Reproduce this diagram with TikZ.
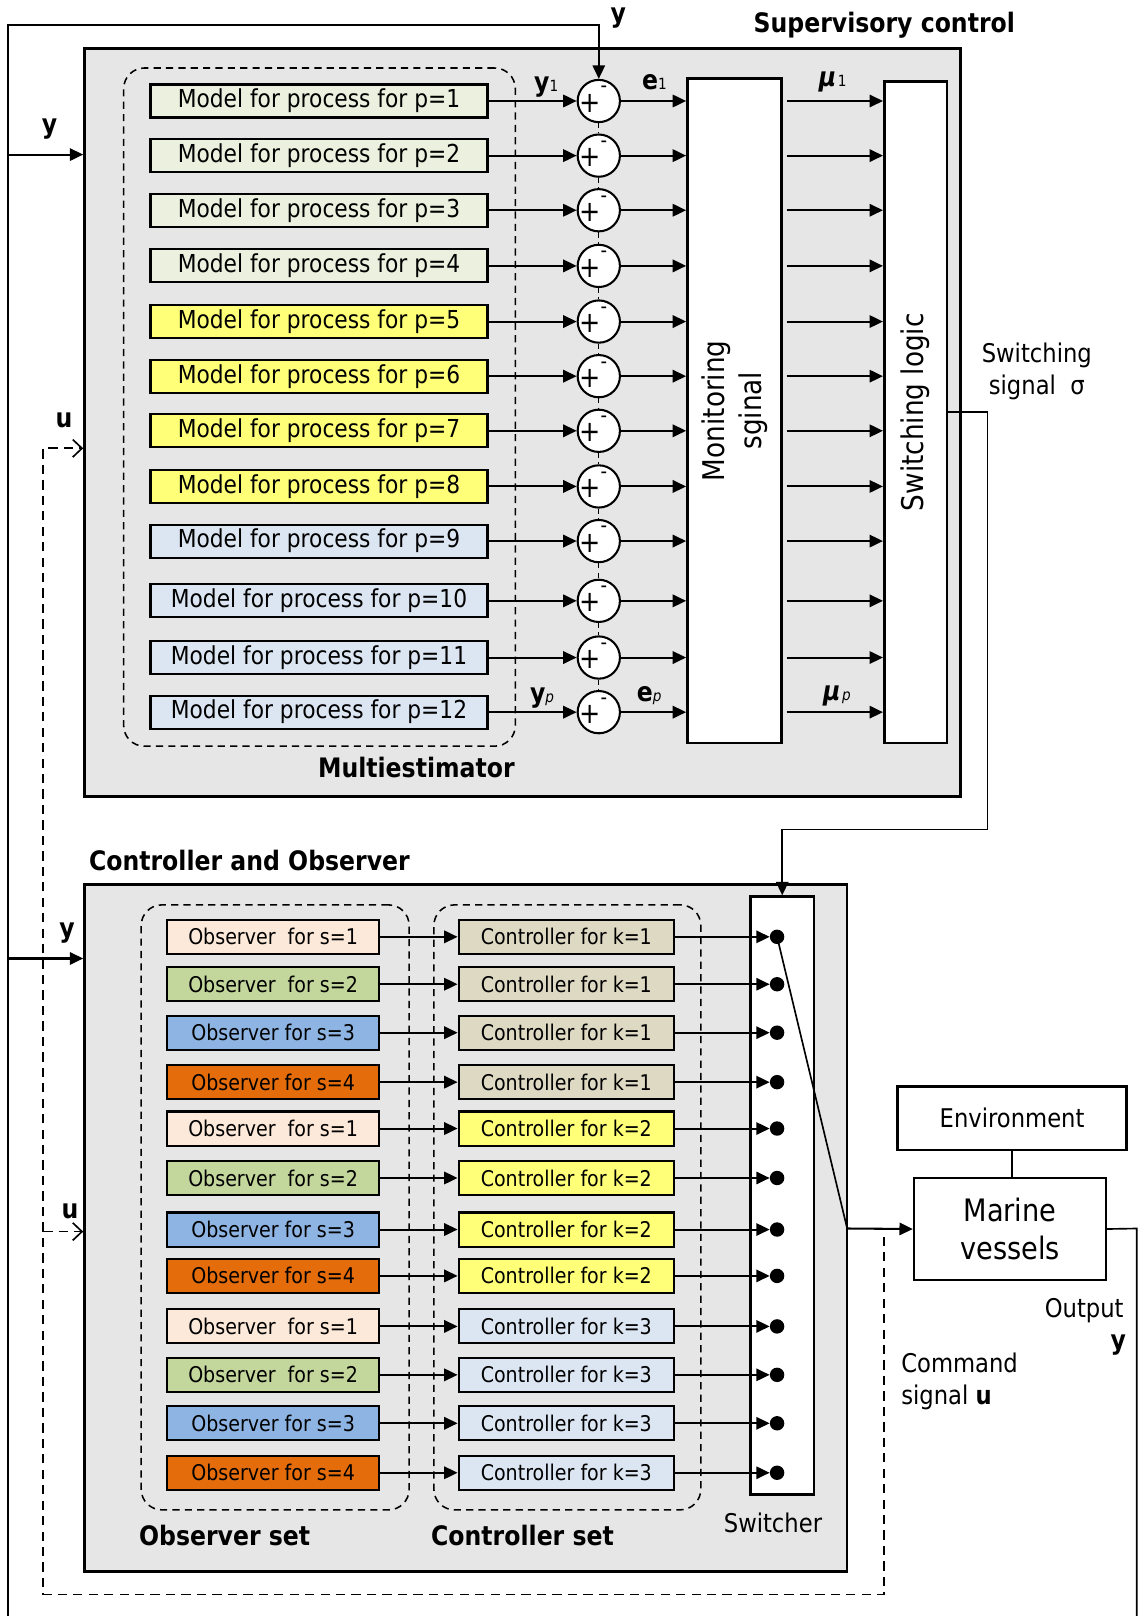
\documentclass[tikz,border=0pt]{standalone}
\usepackage{fontspec}
\setmainfont{DejaVu Sans}[FakeStretch=0.88]
\usepackage{tikz}
\usepackage{xcolor}
\usetikzlibrary{arrows.meta,positioning,fit,calc}
\definecolor{panelgray}{RGB}{230,230,230}
\definecolor{modgreen}{RGB}{235,241,222}
\definecolor{modyellow}{RGB}{255,255,120}
\definecolor{modblue}{RGB}{220,230,242}
\definecolor{obsfill1}{RGB}{253,233,217}
\definecolor{obsfill2}{RGB}{195,214,155}
\definecolor{obsfill3}{RGB}{141,180,226}
\definecolor{obsfill4}{RGB}{228,108,10}
\definecolor{ctrlfill1}{RGB}{221,217,195}
\definecolor{ctrlfill2}{RGB}{255,255,120}
\definecolor{ctrlfill3}{RGB}{220,230,242}

\begin{document}
\begin{tikzpicture}[x=1pt, y=-1pt, >={Triangle[length=13pt, width=12pt]},
    panel/.style={draw, line width=2.5pt, fill=panelgray, inner sep=0pt},
    whitebox/.style={draw, line width=2.5pt, fill=white, inner sep=0pt},
    modelbox/.style={draw, line width=2pt, minimum width=327pt, minimum height=32pt, inner sep=0pt, font=\fontsize{24}{28}\selectfont},
    obsbox/.style={draw, line width=2pt, minimum width=206pt, minimum height=33pt, inner sep=0pt, font=\fontsize{21}{24}\selectfont},
    ctrlbox/.style={obsbox, minimum width=209pt},
    setbox/.style={draw, line width=1.5pt, dash pattern=on 7pt off 5pt, rounded corners=20pt, inner sep=0pt},
    sumnode/.style={circle, draw, line width=2pt, fill=white, minimum size=41pt, inner sep=0pt},
    dotnode/.style={circle, fill=black, minimum size=14pt, inner sep=0pt},
    conn/.style={line width=2pt},
    thinconn/.style={line width=1.6pt},
    uline/.style={line width=1.6pt, dash pattern=on 9pt off 6pt, -{Straight Barb[length=9pt, width=17pt, line width=1.6pt]}},
    headtext/.style={font=\fontsize{26}{30}\selectfont\bfseries},
    lbl/.style={font=\fontsize{25}{31}\selectfont},
  ]
  \useasboundingbox (0,0) rectangle (1107,1568);

  % supervisory part
  \node[panel, minimum width=850pt, minimum height=726pt] (mest) at (507,410) {};
  \node[headtext] (suplab) at (858,24) {Supervisory control};

  \foreach \p/\yy/\col in {1/98/modgreen, 2/151/modgreen, 3/204/modgreen, 4/258/modgreen,
      5/312/modyellow, 6/365/modyellow, 7/418/modyellow, 8/472/modyellow,
      9/525/modblue, 10/583/modblue, 11/638/modblue, 12/691/modblue} {
    \node[modelbox, fill=\col] (m\p) at (309.5,\yy) {Model for process for p=\p};
    \node[sumnode] (s\p) at (581,\yy) {};
    \node[font=\fontsize{28}{28}\selectfont, inner sep=0pt] (pl\p) at ([xshift=-8pt, yshift=-2pt]s\p.center) {+};
    \node[font=\fontsize{20}{20}\selectfont, inner sep=0pt] (mn\p) at ([xshift=5pt, yshift=11pt]s\p.center) {-};
    \draw[->, conn] (m\p) -- (s\p);
  }
  \foreach \a/\b in {1/2,2/3,3/4,4/5,5/6,6/7,7/8,8/9,9/10,10/11,11/12}
    \draw[line width=1.2pt, dash pattern=on 5pt off 4pt] (s\a.south) -- (s\b.north);

  \node[setbox, fit={(120,66) (500,724)}] (mgroup) {};
  \node[headtext] (mlab) at (404,745) {Multiestimator};

  \node[whitebox, minimum width=91pt, minimum height=645pt] (mon) at (712.5,398.5) {};
  \node[rotate=90, align=center, font=\fontsize{29}{36}\selectfont] (monlab) at (mon.center) {Monitoring\\sginal};
  \node[whitebox, minimum width=61pt, minimum height=642pt] (slog) at (888.5,400) {};
  \node[rotate=90, font=\fontsize{29}{36}\selectfont] (sloglab) at (slog.center) {Switching logic};

  \foreach \p in {1,...,12} {
    \draw[->, conn] (s\p.east) -- (s\p.east -| mon.west);
    \draw[->, conn] ($(mon.east |- s\p)+(4,0)$) -- (slog.west |- s\p);
  }

  \node (y1lab) at (530,84) {{\fontsize{26}{30}\selectfont\bfseries y}{\fontsize{15}{18}\selectfont 1}};
  \node (e1lab) at (635,80) {{\fontsize{26}{30}\selectfont\bfseries e}{\fontsize{15}{18}\selectfont 1}};
  \node (mu1lab) at (808,80) {{\fontsize{26}{30}\selectfont\bfseries\itshape μ}\,{\fontsize{15}{18}\selectfont 1}};
  \node (yplab) at (526,677) {{\fontsize{26}{30}\selectfont\bfseries y}{\fontsize{15}{18}\selectfont\itshape p}};
  \node (eplab) at (630,675) {{\fontsize{26}{30}\selectfont\bfseries e}{\fontsize{15}{18}\selectfont\itshape p}};
  \node (muplab) at (812,675) {{\fontsize{26}{30}\selectfont\bfseries\itshape μ}\,{\fontsize{15}{18}\selectfont\itshape p}};

  % switching signal to the switcher
  \node[lbl, align=center, font=\fontsize{25}{31}\selectfont] (sslab) at (1006,360) {Switching\\signal\ \ σ};

  % controller and observer
  \node[panel, minimum width=740pt, minimum height=667pt] (ctob) at (452,1191.5) {};
  \node[headtext] (colab) at (242,835) {Controller and Observer};
  \node[setbox, fit={(137,878) (397,1465)}] (ogroup) {};
  \node[setbox, fit={(421,878) (680,1465)}] (cgroup) {};
  \node[whitebox, minimum width=62pt, minimum height=580pt] (swr) at (759,1160) {};

  \foreach \r/\yy/\s/\k in {1/909/1/1, 2/955/2/1, 3/1002/3/1, 4/1050/4/1,
      5/1095/1/2, 6/1143/2/2, 7/1193/3/2, 8/1238/4/2,
      9/1287/1/3, 10/1334/2/3, 11/1381/3/3, 12/1429/4/3} {
    \node[obsbox, fill=obsfill\s] (o\r) at (265,\yy) {Observer\ifnum\s<3\ \fi\ for s=\s};
    \node[ctrlbox, fill=ctrlfill\k] (c\r) at (549.5,\yy) {Controller for k=\k};
    \node[dotnode] (d\r) at (754,\yy) {};
    \draw[->, conn] (o\r) -- (c\r);
    \draw[->, conn] (c\r.east) -- (d\r.west);
  }

  \node[headtext] (oslab) at (218,1490) {Observer set};
  \node[headtext] (cslab) at (507,1490) {Controller set};
  \node[lbl] (swrlab) at (750,1478) {Switcher};

  \draw[->, thinconn] (slog.east) -| (958,805) -| (swr.north);

  % plant
  \node[draw, line width=2.5pt, fill=white, minimum width=222pt, minimum height=62pt, lbl] (env) at (982,1085) {Environment};
  \node[draw, line width=2.5pt, fill=white, minimum width=186pt, minimum height=99pt, align=center, font=\fontsize{30}{36}\selectfont] (mar) at (980,1192.5) {Marine\\vessels};
  \draw[thinconn] (env.south) -- (env.south |- mar.north);

  \coordinate (swout) at (822,1192);
  \draw[thinconn] (d1.center) -- (swout);
  \draw[->, conn] (swout) -- (mar.west);

  \coordinate (outR) at (1103,1192);
  \coordinate (botR) at (1103,1568);
  \draw[thinconn] (mar.east) -- (outR) -- (botR);
  \node[lbl] (outlab) at (1052,1272) {Output};
  \node[headtext] (youtlab) at (1085,1305) {y};
  \node[lbl, align=left, anchor=west] (cmdlab) at (871,1340) {Command\\signal \textbf{u}};

  % feedback of y
  \coordinate (botL) at (8,1568);
  \coordinate (ytop) at (8,24);
  \draw[->, thinconn] (botL) -- (ytop) -| (s1.north);
  \coordinate (yin1) at (8,150);
  \coordinate (yin2) at (8,930);
  \draw[->, conn] (yin1) -- (mest.west |- yin1);
  \draw[->, conn] (yin2) -- (ctob.west |- yin2);
  \node[headtext] (ytoplab) at (600,18) {y};
  \node[headtext] (y1inlab) at (48,125) {y};
  \node[headtext] (y2inlab) at (65,905) {y};

  % feedback of u
  \coordinate (ustart) at (858,1200);
  \coordinate (ubranch) at (42,1195);
  \draw[uline] (ustart) -- (858,1547) -| (42,435) -- (mest.west |- 0,435);
  \draw[uline] (ubranch) -- (ctob.west |- ubranch);
  \node[headtext] (u1lab) at (62,408) {u};
  \node[headtext] (u2lab) at (68,1175) {u};
\end{tikzpicture}
\end{document}
